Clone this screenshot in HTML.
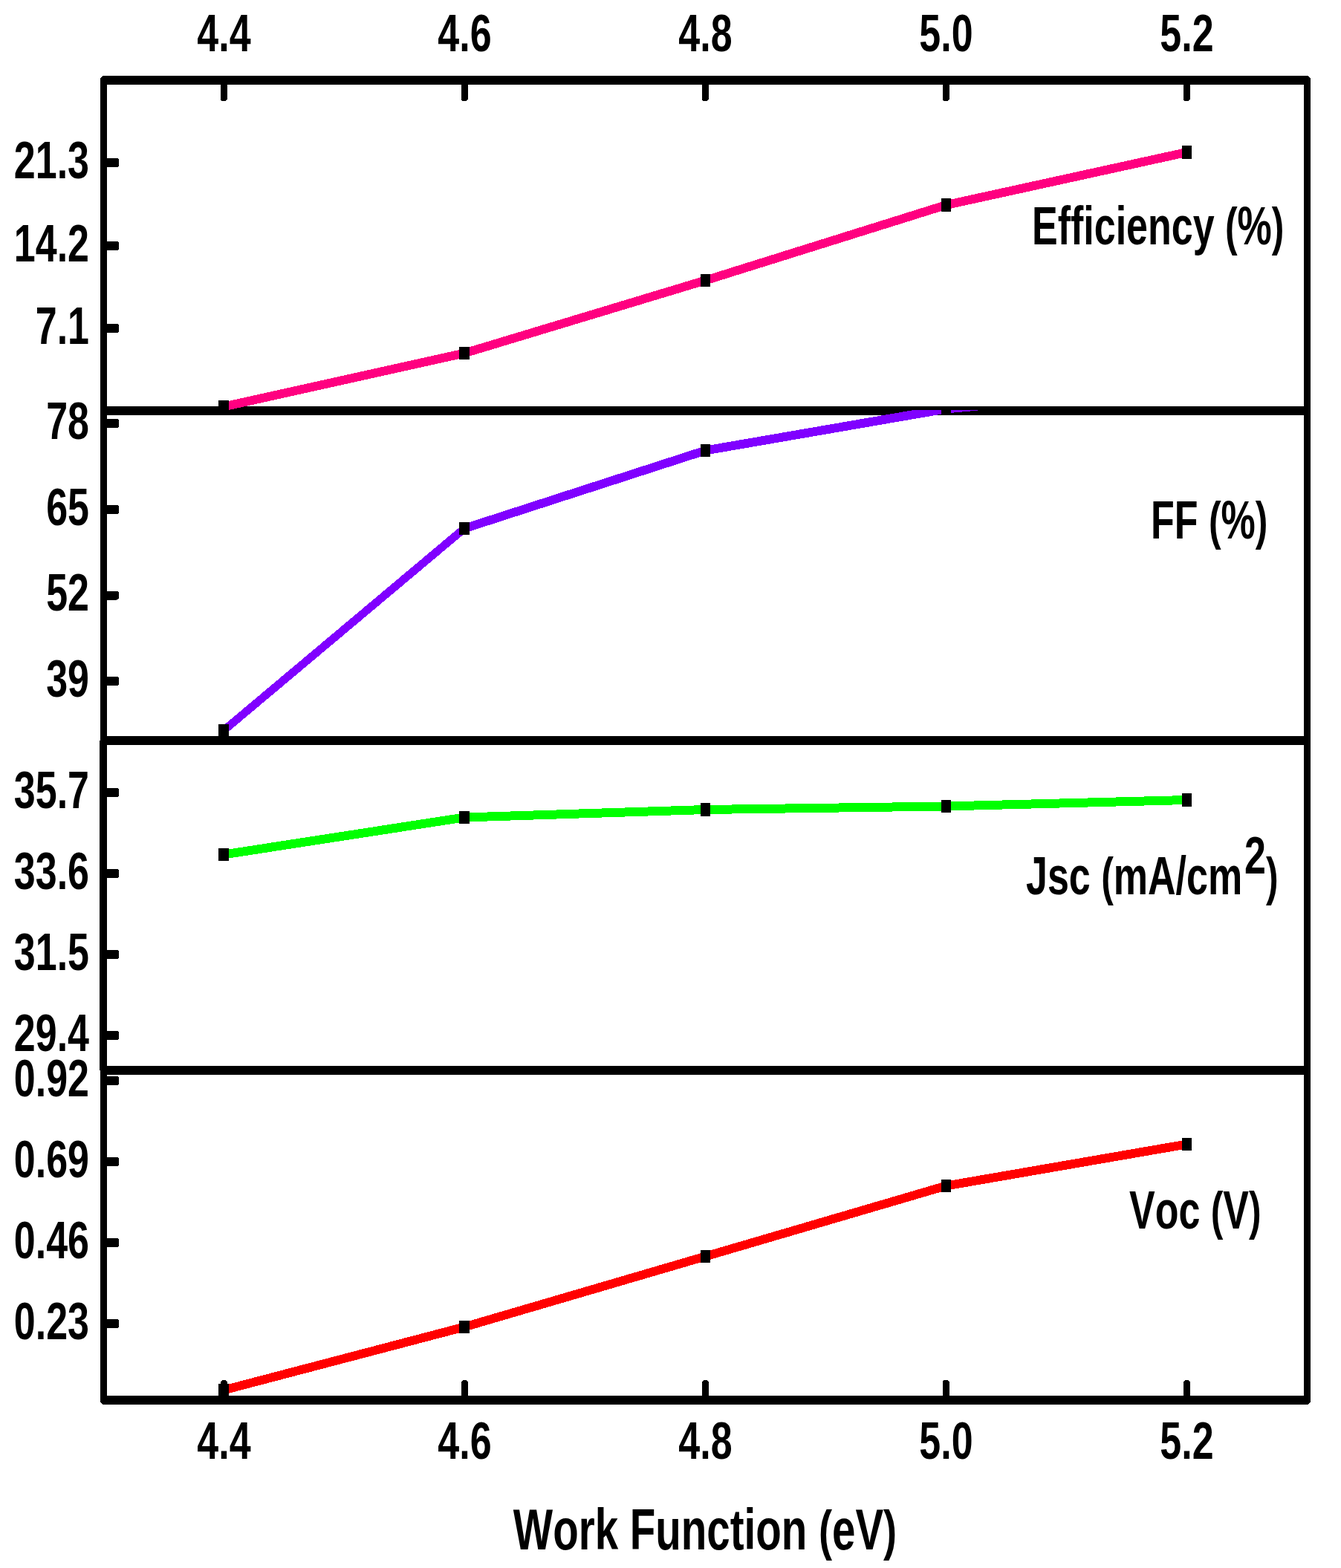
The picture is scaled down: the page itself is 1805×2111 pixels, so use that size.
<!DOCTYPE html><html><head><meta charset="utf-8"><title>Work Function</title><style>
html,body{margin:0;padding:0;background:#fff;}svg{display:block;}
text{font-family:"Liberation Sans",Arial,sans-serif;font-weight:bold;fill:#000;font-kerning:none;font-variant-ligatures:none;}
</style></head><body>
<svg width="1805" height="2111" viewBox="0 0 1805 2111">
<rect width="100%" height="100%" fill="#fff"/>
<defs>
<clipPath id="c0"><rect x="186.0" y="108" width="2160.0" height="445"/></clipPath>
<clipPath id="c1"><rect x="186.0" y="552" width="2160.0" height="445"/></clipPath>
<clipPath id="c2"><rect x="186.0" y="996" width="2160.0" height="445"/></clipPath>
<clipPath id="c3"><rect x="186.0" y="1440" width="2160.0" height="445"/></clipPath>
</defs>
<g transform="scale(0.75,1)" shape-rendering="crispEdges">
<path d="M186.0,108H2346.0V1885H186.0ZM186.0,553H2346.0M186.0,997H2346.0M186.0,1441H2346.0" fill="none" stroke="#000" stroke-width="12" stroke-linejoin="round"/>
<rect x="178.667" y="997" width="2.0" height="444"/>
<rect x="396.0" y="108" width="12" height="28" rx="4.67" ry="3.5"/>
<rect x="396.0" y="1858" width="12" height="27" rx="4.67" ry="3.5"/>
<rect x="828.0" y="108" width="12" height="28" rx="4.67" ry="3.5"/>
<rect x="828.0" y="1858" width="12" height="27" rx="4.67" ry="3.5"/>
<rect x="1260.0" y="108" width="12" height="28" rx="4.67" ry="3.5"/>
<rect x="1260.0" y="1858" width="12" height="27" rx="4.67" ry="3.5"/>
<rect x="1692.0" y="108" width="12" height="28" rx="4.67" ry="3.5"/>
<rect x="1692.0" y="1858" width="12" height="27" rx="4.67" ry="3.5"/>
<rect x="2124.0" y="108" width="12" height="28" rx="4.67" ry="3.5"/>
<rect x="2124.0" y="1858" width="12" height="27" rx="4.67" ry="3.5"/>
<rect x="186.0" y="213" width="27.333" height="12" rx="3.67" ry="3.5"/>
<rect x="186.0" y="325" width="27.333" height="12" rx="3.67" ry="3.5"/>
<rect x="186.0" y="436" width="27.333" height="12" rx="3.67" ry="3.5"/>
<rect x="186.0" y="564" width="27.333" height="12" rx="3.67" ry="3.5"/>
<rect x="186.0" y="680" width="27.333" height="12" rx="3.67" ry="3.5"/>
<rect x="186.0" y="795.5" width="27.333" height="12" rx="3.67" ry="3.5"/>
<rect x="186.0" y="911" width="27.333" height="12" rx="3.67" ry="3.5"/>
<rect x="186.0" y="1061" width="27.333" height="12" rx="3.67" ry="3.5"/>
<rect x="186.0" y="1170" width="27.333" height="12" rx="3.67" ry="3.5"/>
<rect x="186.0" y="1279" width="27.333" height="12" rx="3.67" ry="3.5"/>
<rect x="186.0" y="1388" width="27.333" height="12" rx="3.67" ry="3.5"/>
<rect x="186.0" y="1449" width="27.333" height="12" rx="3.67" ry="3.5"/>
<rect x="186.0" y="1558" width="27.333" height="12" rx="3.67" ry="3.5"/>
<rect x="186.0" y="1667" width="27.333" height="12" rx="3.67" ry="3.5"/>
<rect x="186.0" y="1776" width="27.333" height="12" rx="3.67" ry="3.5"/>
<g clip-path="url(#c0)">
<line x1="401.333" y1="547.5" x2="833.333" y2="475.5" stroke="#FF0080" stroke-width="12"/>
<line x1="833.333" y1="475.5" x2="1266.0" y2="377.5" stroke="#FF0080" stroke-width="12"/>
<line x1="1266.0" y1="377.5" x2="1698.0" y2="276" stroke="#FF0080" stroke-width="12"/>
<line x1="1698.0" y1="276" x2="2130.0" y2="205" stroke="#FF0080" stroke-width="12"/>
<rect x="392.333" y="538.75" width="18.0" height="17.5" fill="#000"/>
<rect x="824.333" y="466.75" width="18.0" height="17.5" fill="#000"/>
<rect x="1257.0" y="368.75" width="18.0" height="17.5" fill="#000"/>
<rect x="1689.0" y="267.25" width="18.0" height="17.5" fill="#000"/>
<rect x="2121.0" y="196.25" width="18.0" height="17.5" fill="#000"/>
</g>
<g clip-path="url(#c1)">
<line x1="401.333" y1="983.5" x2="833.333" y2="711.5" stroke="#8000FF" stroke-width="12"/>
<line x1="833.333" y1="711.5" x2="1266.0" y2="606.5" stroke="#8000FF" stroke-width="12"/>
<line x1="1266.0" y1="606.5" x2="1698.0" y2="550.5" stroke="#8000FF" stroke-width="12"/>
<line x1="1698.0" y1="550.5" x2="2130.0" y2="520" stroke="#8000FF" stroke-width="12"/>
<rect x="392.333" y="974.75" width="18.0" height="17.5" fill="#000"/>
<rect x="824.333" y="702.75" width="18.0" height="17.5" fill="#000"/>
<rect x="1257.0" y="597.75" width="18.0" height="17.5" fill="#000"/>
<rect x="1689.0" y="541.75" width="18.0" height="17.5" fill="#000"/>
<rect x="2121.0" y="511.25" width="18.0" height="17.5" fill="#000"/>
</g>
<g clip-path="url(#c2)">
<line x1="401.333" y1="1150.5" x2="833.333" y2="1100.5" stroke="#00FF00" stroke-width="12"/>
<line x1="833.333" y1="1100.5" x2="1266.0" y2="1090" stroke="#00FF00" stroke-width="12"/>
<line x1="1266.0" y1="1090" x2="1698.0" y2="1085.5" stroke="#00FF00" stroke-width="12"/>
<line x1="1698.0" y1="1085.5" x2="2130.0" y2="1077" stroke="#00FF00" stroke-width="12"/>
<rect x="392.333" y="1141.75" width="18.0" height="17.5" fill="#000"/>
<rect x="824.333" y="1091.75" width="18.0" height="17.5" fill="#000"/>
<rect x="1257.0" y="1081.25" width="18.0" height="17.5" fill="#000"/>
<rect x="1689.0" y="1076.75" width="18.0" height="17.5" fill="#000"/>
<rect x="2121.0" y="1068.25" width="18.0" height="17.5" fill="#000"/>
</g>
<g clip-path="url(#c3)">
<line x1="401.333" y1="1871.5" x2="833.333" y2="1786.5" stroke="#FF0000" stroke-width="12"/>
<line x1="833.333" y1="1786.5" x2="1266.0" y2="1691.5" stroke="#FF0000" stroke-width="12"/>
<line x1="1266.0" y1="1691.5" x2="1698.0" y2="1596.5" stroke="#FF0000" stroke-width="12"/>
<line x1="1698.0" y1="1596.5" x2="2130.0" y2="1540.5" stroke="#FF0000" stroke-width="12"/>
<rect x="392.333" y="1862.75" width="18.0" height="17.5" fill="#000"/>
<rect x="824.333" y="1777.75" width="18.0" height="17.5" fill="#000"/>
<rect x="1257.0" y="1682.75" width="18.0" height="17.5" fill="#000"/>
<rect x="1689.0" y="1587.75" width="18.0" height="17.5" fill="#000"/>
<rect x="2121.0" y="1531.75" width="18.0" height="17.5" fill="#000"/>
</g>
</g>
<text transform="scale(0.73,1)" x="413.014" y="69" font-size="71.2" text-anchor="middle">4.4</text>
<text transform="scale(0.73,1)" x="413.014" y="1964" font-size="71.2" text-anchor="middle">4.4</text>
<text transform="scale(0.73,1)" x="856.849" y="69" font-size="71.2" text-anchor="middle">4.6</text>
<text transform="scale(0.73,1)" x="856.849" y="1964" font-size="71.2" text-anchor="middle">4.6</text>
<text transform="scale(0.73,1)" x="1300.685" y="69" font-size="71.2" text-anchor="middle">4.8</text>
<text transform="scale(0.73,1)" x="1300.685" y="1964" font-size="71.2" text-anchor="middle">4.8</text>
<text transform="scale(0.73,1)" x="1744.521" y="69" font-size="71.2" text-anchor="middle">5.0</text>
<text transform="scale(0.73,1)" x="1744.521" y="1964" font-size="71.2" text-anchor="middle">5.0</text>
<text transform="scale(0.73,1)" x="2188.356" y="69" font-size="71.2" text-anchor="middle">5.2</text>
<text transform="scale(0.73,1)" x="2188.356" y="1964" font-size="71.2" text-anchor="middle">5.2</text>
<text transform="scale(0.73,1)" x="164.384" y="240" font-size="71.2" text-anchor="end">21.3</text>
<text transform="scale(0.73,1)" x="164.384" y="352" font-size="71.2" text-anchor="end">14.2</text>
<text transform="scale(0.73,1)" x="164.384" y="463" font-size="71.2" text-anchor="end">7.1</text>
<text transform="scale(0.73,1)" x="164.384" y="591" font-size="71.2" text-anchor="end">78</text>
<text transform="scale(0.73,1)" x="164.384" y="707" font-size="71.2" text-anchor="end">65</text>
<text transform="scale(0.73,1)" x="164.384" y="822.5" font-size="71.2" text-anchor="end">52</text>
<text transform="scale(0.73,1)" x="164.384" y="938" font-size="71.2" text-anchor="end">39</text>
<text transform="scale(0.73,1)" x="164.384" y="1088" font-size="71.2" text-anchor="end">35.7</text>
<text transform="scale(0.73,1)" x="164.384" y="1197" font-size="71.2" text-anchor="end">33.6</text>
<text transform="scale(0.73,1)" x="164.384" y="1306" font-size="71.2" text-anchor="end">31.5</text>
<text transform="scale(0.73,1)" x="164.384" y="1415" font-size="71.2" text-anchor="end">29.4</text>
<text transform="scale(0.73,1)" x="164.384" y="1476" font-size="71.2" text-anchor="end">0.92</text>
<text transform="scale(0.73,1)" x="164.384" y="1585" font-size="71.2" text-anchor="end">0.69</text>
<text transform="scale(0.73,1)" x="164.384" y="1694" font-size="71.2" text-anchor="end">0.46</text>
<text transform="scale(0.73,1)" x="164.384" y="1803" font-size="71.2" text-anchor="end">0.23</text>
<text transform="scale(0.717,1)" x="1937.238" y="329" font-size="72.5">Efficiency <tspan font-size="69.5">(</tspan>%<tspan font-size="69.5">)</tspan></text>
<text transform="scale(0.717,1)" x="2160.391" y="725" font-size="72.5">FF <tspan font-size="69.5">(</tspan>%<tspan font-size="69.5">)</tspan></text>
<text transform="scale(0.717,1)" x="1926.081" y="1204" font-size="72.5">Jsc <tspan font-size="69.5">(</tspan>mA/cm</text>
<text transform="scale(0.73,1)" x="2294.521" y="1176" font-size="71.2">2</text>
<text transform="scale(0.717,1)" x="2376.569" y="1204" font-size="72.5"><tspan font-size="69.5">)</tspan></text>
<text transform="scale(0.717,1)" x="2119.944" y="1654" font-size="72.5">Voc <tspan font-size="69.5">(</tspan>V<tspan font-size="69.5">)</tspan></text>
<text transform="scale(0.73,1)" x="1300.0" y="2086" font-size="77.4" text-anchor="middle">Work Function <tspan font-size="74.2">(</tspan>eV<tspan font-size="74.2">)</tspan></text>
</svg></body></html>
